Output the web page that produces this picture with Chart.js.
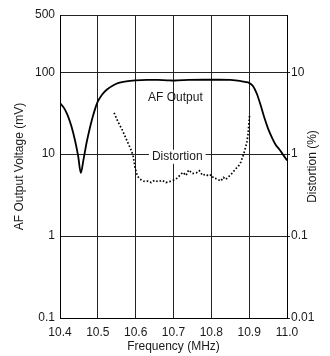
<!DOCTYPE html>
<html>
<head>
<meta charset="utf-8">
<script src="https://cdn.jsdelivr.net/npm/chart.js"></script>
<style>
  body { margin: 0; background: #fff; }
  canvas { display: block; }
</style>
</head>
<body>
<canvas id="chart" width="330" height="356"></canvas>
<script>
// axis ticks
const xTicks = [10.4, 10.5, 10.6, 10.7, 10.8, 10.9, 11.0];
const leftTicks = [0.1, 1, 10, 100, 500];
const rightTicks = [0.01, 0.1, 1, 10];

// AF output (mV), left axis
const afFreq = [10.4, 10.41, 10.42, 10.43, 10.44, 10.448, 10.455, 10.462, 10.47, 10.478, 10.486, 10.493, 10.5,
  10.512, 10.525, 10.54, 10.555, 10.575, 10.6, 10.63, 10.66, 10.69, 10.7, 10.71, 10.74, 10.78, 10.82, 10.85,
  10.875, 10.89, 10.9, 10.91, 10.92, 10.93, 10.94, 10.95, 10.96, 10.97, 10.98, 10.99, 11.0];
const afVals = [42, 37, 30, 22, 14.5, 9.5, 5.9, 8.5, 13.6, 20, 28, 36, 44,
  54, 62, 69, 74, 77.5, 79.5, 80.5, 80.5, 79.5, 79, 79.5, 80.5, 81, 81, 80.5,
  78.5, 76, 74, 68, 55, 40, 28, 20.5, 16, 13, 11.4, 9.8, 8.4];

// Distortion (%), right axis
const distFreq = [10.543, 10.553, 10.564, 10.572, 10.58, 10.587, 10.593, 10.598, 10.604, 10.61, 10.617, 10.625, 10.633,
  10.641, 10.65, 10.66, 10.67, 10.68, 10.688, 10.696, 10.703, 10.71, 10.718, 10.725, 10.733, 10.74, 10.75, 10.76,
  10.768, 10.777, 10.785, 10.793, 10.8, 10.806, 10.815, 10.825, 10.832, 10.838, 10.845, 10.85, 10.857, 10.864,
  10.872, 10.878, 10.886, 10.894, 10.897, 10.9, 10.901];
const distVals = [3.2, 2.5, 2.0, 1.65, 1.36, 1.15, 0.97, 0.7, 0.55, 0.5, 0.48, 0.46, 0.47,
  0.45, 0.48, 0.46, 0.48, 0.45, 0.46, 0.47, 0.49, 0.51, 0.56, 0.6, 0.55, 0.64, 0.58, 0.59,
  0.63, 0.55, 0.57, 0.54, 0.56, 0.51, 0.5, 0.47, 0.52, 0.49, 0.53, 0.55, 0.6, 0.66,
  0.72, 0.8, 1.02, 1.4, 1.75, 2.6, 3.0];

const FONT = "'Liberation Sans', Arial, Helvetica, sans-serif";
const INK = '#1a1a1a';
Chart.defaults.font.family = FONT;
Chart.defaults.font.size = 12;
Chart.defaults.color = INK;

// in-plot curve labels + right axis title (reads bottom to top like the left one)
const curveLabels = {
  id: 'curveLabels',
  afterDatasetsDraw(chart) {
    const { ctx, scales, chartArea } = chart;
    ctx.save();
    ctx.font = '12px ' + FONT;
    ctx.fillStyle = INK;
    ctx.textAlign = 'center';
    ctx.textBaseline = 'middle';
    // AF Output
    ctx.fillText('AF Output', scales.x.getPixelForValue(10.705), scales.y.getPixelForValue(49));
    // Distortion (box masks the grid line)
    const dx = scales.x.getPixelForValue(10.71);
    const dy = scales.y2.getPixelForValue(0.93);
    const w = ctx.measureText('Distortion').width;
    ctx.fillStyle = '#fff';
    ctx.fillRect(dx - w / 2 - 3, dy - 7, w + 6, 14);
    ctx.fillStyle = INK;
    ctx.fillText('Distortion', dx, dy);
    // right title
    ctx.translate(313, (chartArea.top + chartArea.bottom) / 2);
    ctx.rotate(-Math.PI / 2);
    ctx.fillText('Distortion (%)', 0, 0);
    ctx.restore();
  }
};

new Chart(document.getElementById('chart'), {
  type: 'line',
  data: {
    datasets: [
      {
        label: 'AF Output',
        data: afFreq.map((f, i) => ({ x: f, y: afVals[i] })),
        yAxisID: 'y',
        borderColor: '#000',
        borderWidth: 1.8,
        pointRadius: 0,
        cubicInterpolationMode: 'monotone',
        fill: false
      },
      {
        label: 'Distortion',
        data: distFreq.map((f, i) => ({ x: f, y: distVals[i] })),
        yAxisID: 'y2',
        borderColor: '#000',
        borderWidth: 1.7,
        borderDash: [1.6, 2.0],
        pointRadius: 0,
        tension: 0,
        fill: false
      }
    ]
  },
  options: {
    responsive: false,
    animation: false,
    layout: { padding: { top: 15, left: 0, right: 0, bottom: 0 } },
    plugins: { legend: { display: false }, tooltip: { enabled: false } },
    scales: {
      x: {
        type: 'linear',
        min: 10.4,
        max: 11.0,
        afterBuildTicks: s => { s.ticks = xTicks.map(v => ({ value: v })); },
        afterFit: s => { s.height = 38; },
        ticks: { padding: 7, callback: v => Number(v).toFixed(1) },
        grid: { color: '#222', lineWidth: 1, drawTicks: false },
        border: { color: '#000', width: 1 },
        title: { display: true, text: 'Frequency (MHz)', padding: { top: 0, bottom: 2 } }
      },
      y: {
        type: 'logarithmic',
        position: 'left',
        min: 0.1,
        max: 500,
        afterBuildTicks: s => { s.ticks = leftTicks.map(v => ({ value: v })); },
        afterFit: s => { s.width = 60; },
        ticks: { padding: 5, callback: v => String(v) },
        grid: { color: '#222', lineWidth: 1, drawTicks: false },
        border: { color: '#000', width: 1 },
        title: { display: true, text: 'AF Output Voltage (mV)', padding: { top: 12, bottom: 0 } }
      },
      y2: {
        type: 'logarithmic',
        position: 'right',
        min: 0.01,
        max: 50,
        afterBuildTicks: s => { s.ticks = rightTicks.map(v => ({ value: v })); },
        afterFit: s => { s.width = 43; },
        ticks: { padding: 1, callback: v => String(v) },
        grid: { drawOnChartArea: false, color: '#222', tickLength: 3 },
        border: { color: '#000', width: 1 },
        title: { display: false }
      }
    }
  },
  plugins: [curveLabels]
});
</script>
</body>
</html>
